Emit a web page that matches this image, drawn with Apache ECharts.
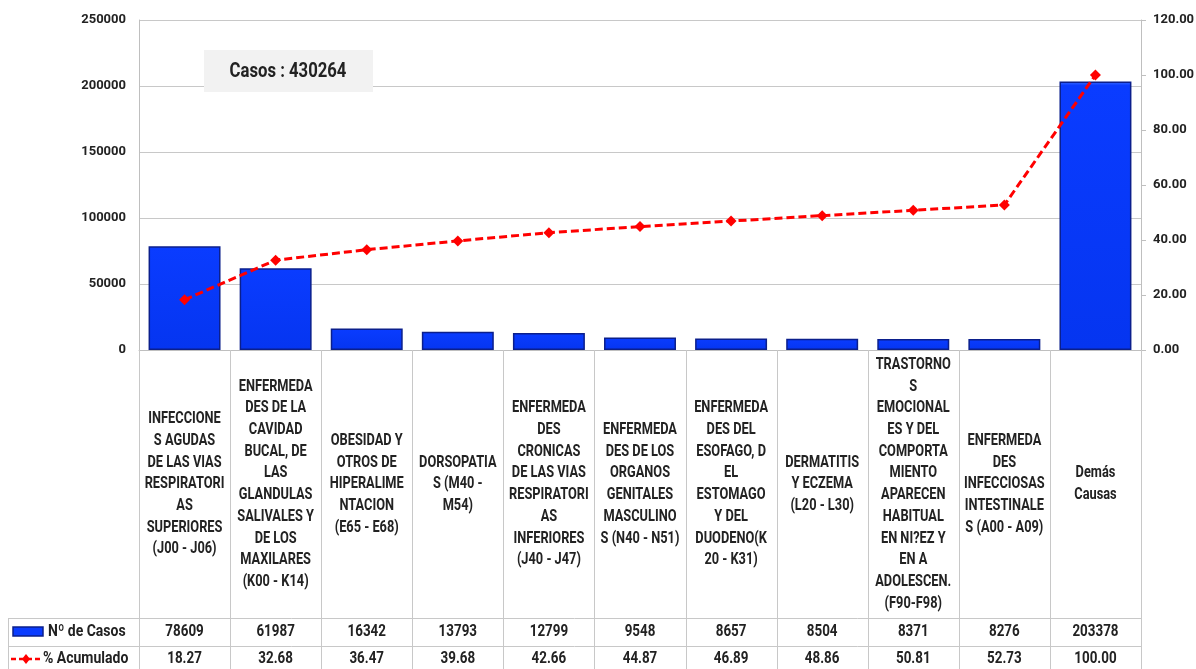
<!DOCTYPE html>
<html><head><meta charset="utf-8">
<script src="https://cdn.jsdelivr.net/npm/echarts@6/dist/echarts.min.js"></script>
<style>html,body{margin:0;padding:0;background:#fff}#c{width:1196px;height:669px}</style>
</head><body><div id="c"></div>
<script>
const categories = [
  "INFECCIONE\nS AGUDAS\nDE LAS VIAS\nRESPIRATORI\nAS\nSUPERIORES\n(J00 - J06)",
  "ENFERMEDA\nDES DE LA\nCAVIDAD\nBUCAL, DE\nLAS\nGLANDULAS\nSALIVALES Y\nDE LOS\nMAXILARES\n(K00 - K14)",
  "OBESIDAD Y\nOTROS DE\nHIPERALIME\nNTACION\n(E65 - E68)",
  "DORSOPATIA\nS (M40 -\nM54)",
  "ENFERMEDA\nDES\nCRONICAS\nDE LAS VIAS\nRESPIRATORI\nAS\nINFERIORES\n(J40 - J47)",
  "ENFERMEDA\nDES DE LOS\nORGANOS\nGENITALES\nMASCULINO\nS (N40 - N51)",
  "ENFERMEDA\nDES DEL\nESOFAGO, D\nEL\nESTOMAGO\nY DEL\nDUODENO(K\n20 - K31)",
  "DERMATITIS\nY ECZEMA\n(L20 - L30)",
  "TRASTORNO\nS\nEMOCIONAL\nES Y DEL\nCOMPORTA\nMIENTO\nAPARECEN\nHABITUAL\nEN NI?EZ Y\nEN A\nADOLESCEN.\n(F90-F98)",
  "ENFERMEDA\nDES\nINFECCIOSAS\nINTESTINALE\nS (A00 - A09)",
  "Demás\nCausas"
];
const casos = [78609, 61987, 16342, 13793, 12799, 9548, 8657, 8504, 8371, 8276, 203378];
const acumulado = [18.27, 32.68, 36.47, 39.68, 42.66, 44.87, 46.89, 48.86, 50.81, 52.73, 100.00];
const seriesNames = ["Nº de Casos", "% Acumulado"];
const totalLabel = "Casos : 430264";

const FONT = "Roboto,'DejaVu Sans Condensed',sans-serif";
const TXT = '#222222';
const chart = echarts.init(document.getElementById('c'));
const G = {left: 139, right: 55, top: 20, bottom: 319, outerBoundsMode: 'none', containLabel: false};
chart.setOption({
  animation: false,
  grid: G,
  xAxis: {
    type: 'category', data: categories,
    axisLine: {show: true, lineStyle: {color: '#bfbfbf', width: 1}},
    axisTick: {show: false}, axisLabel: {show: false}
  },
  yAxis: [
    {type: 'value', min: 0, max: 250000, interval: 50000, position: 'left',
     axisLine: {show: true, lineStyle: {color: '#bfbfbf'}}, axisTick: {show: false},
     splitLine: {lineStyle: {color: '#c8c8c8'}},
     axisLabel: {color: TXT, fontFamily: FONT, fontSize: 13, fontWeight: 'bold', margin: 13,
       formatter: v => String(v)}},
    {type: 'value', min: 0, max: 120, interval: 20, position: 'right',
     axisLine: {show: true, lineStyle: {color: '#bfbfbf'}},
     axisTick: {show: true, length: 5, inside: false, lineStyle: {color: '#bfbfbf'}},
     splitLine: {show: false},
     axisLabel: {color: TXT, fontFamily: FONT, fontSize: 13, fontWeight: 'bold', margin: 12,
       formatter: v => v.toFixed(2)}}
  ],
  series: [
    {name: seriesNames[0], type: 'bar', data: casos, yAxisIndex: 0, barCategoryGap: '21%',
     itemStyle: {
       color: new echarts.graphic.LinearGradient(0, 0, 0, 1, [
         {offset: 0, color: '#3a6cff'}, {offset: 0.015, color: '#0a3cff'}, {offset: 1, color: '#0535f0'}]),
       borderColor: '#0b1f8c', borderWidth: 1.5}},
    {name: seriesNames[1], type: 'line', data: acumulado, yAxisIndex: 1,
     symbol: 'diamond', symbolSize: 11,
     lineStyle: {color: '#ff0000', width: 3, type: [8, 4]},
     itemStyle: {color: '#ff0000'}}
  ]
});

function txt(x, y, text, size, sy, extra) {
  return Object.assign({type: 'text', x, y, scaleY: sy, z: 5,
    style: Object.assign({text, fill: TXT, font: "bold " + size + "px " + FONT,
      align: 'center', verticalAlign: 'middle'}, extra || {})});
}

function build() {
  const gx0 = G.left, gx1 = 1196 - G.right, y0 = 669 - G.bottom;
  const w = (gx1 - gx0) / categories.length;
  const rowTop1 = 618, rowTop2 = 646, rowBot = 672;
  const els = [];
  const line = (x1, y1, x2, y2) => els.push({type: 'line', shape: {x1, y1, x2, y2},
    style: {stroke: '#c8c8c8', lineWidth: 1}, silent: true, z: 1});
  for (let i = 0; i <= categories.length; i++) {
    const x = Math.round(gx0 + i * w) + 0.5;
    line(x, y0, x, rowBot);
  }
  line(8.5, rowTop1, 8.5, rowBot);
  line(8, rowTop1 + 0.5, gx1, rowTop1 + 0.5);
  line(8, rowTop2 + 0.5, gx1, rowTop2 + 0.5);
  const SY = 1.36;
  categories.forEach((c, i) => {
    const cx = chart.convertToPixel({xAxisIndex: 0}, i);
    els.push(txt(cx, 484, c, 12.8, SY, {lineHeight: 21.7 / SY}));
    els.push(txt(cx, 632, String(casos[i]), 13.4, 1.2));
    els.push(txt(cx, 659, acumulado[i].toFixed(2), 13.4, 1.2));
  });
  els.push({type: 'rect', shape: {x: 13, y: 627, width: 30, height: 9},
    style: {fill: '#0a3cff', stroke: '#0b1f8c', lineWidth: 1.5}, z: 5});
  els.push(txt(48, 632, seriesNames[0], 14, 1.2, {align: 'left'}));
  els.push({type: 'line', shape: {x1: 11, y1: 659, x2: 41, y2: 659},
    style: {stroke: '#ff0000', lineWidth: 2.5, lineDash: [5, 3]}, z: 5});
  els.push({type: 'polygon', shape: {points: [[26, 654], [30, 659], [26, 664], [22, 659]]},
    style: {fill: '#ff0000'}, z: 6});
  els.push(txt(43, 659, seriesNames[1], 14, 1.2, {align: 'left'}));
  els.push({type: 'rect', shape: {x: 204, y: 50, width: 169, height: 42},
    style: {fill: '#f2f2f2'}, z: 10});
  const t = txt(288, 72, totalLabel, 16.7, 1.26);
  t.z = 11;
  els.push(t);
  chart.setOption({graphic: {elements: els}});
}
build();
</script>
</body></html>
